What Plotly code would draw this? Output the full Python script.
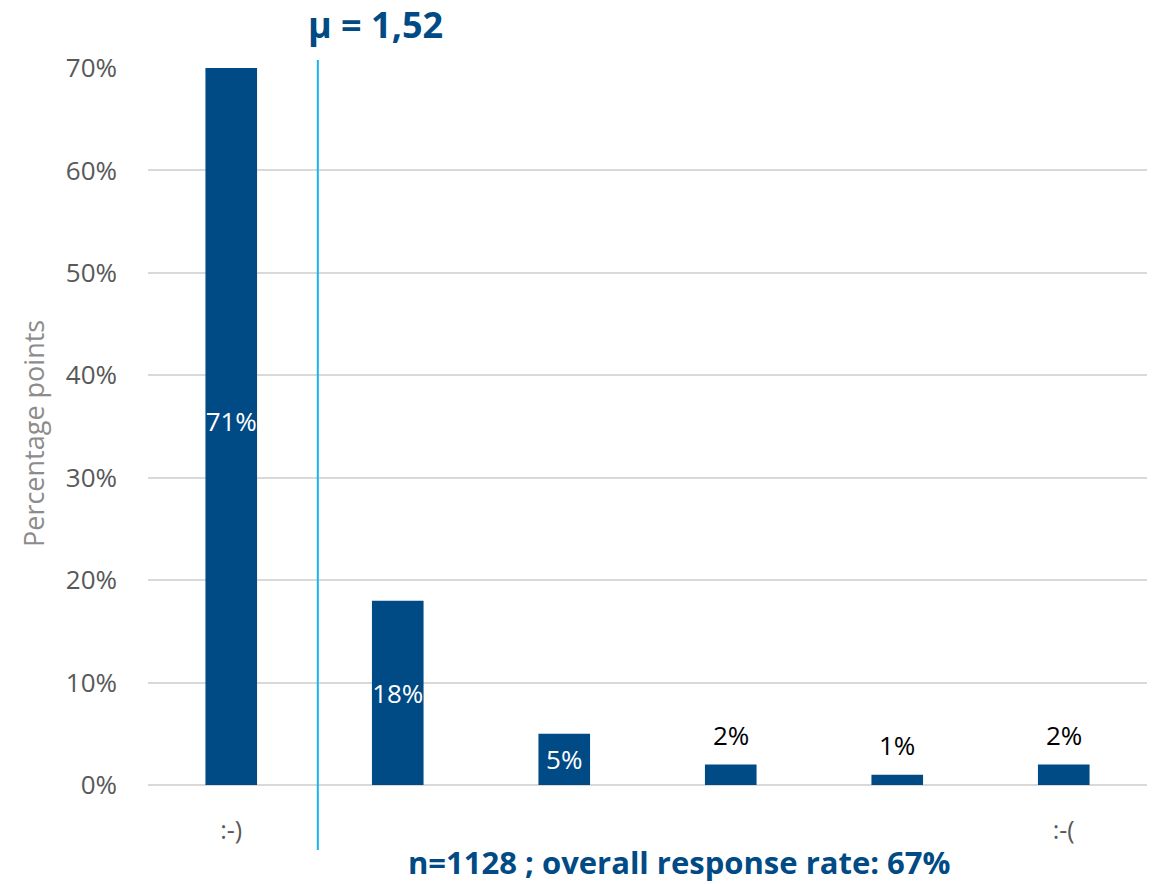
import plotly.graph_objects as go

# Response distribution on a 6-point scale
positions = [1, 2, 3, 4, 5, 6]
shares = [71, 18, 5, 2, 1, 2]
tick_positions = [1, 6]
tick_labels = [":-)", ":-("]
mean_score = 1.52
mean_label = "μ = 1,52"
footnote = "n=1128 ; overall response rate: 67%"

BLUE = "#004A85"
LINE_BLUE = "#19B4EE"
GRID = "#D9D9D9"
TICK = "#595959"

# large bars carry their label inside; small bars get it above
inside = [v >= 5 for v in shares]

fig = go.Figure(
    go.Bar(
        x=positions,
        y=shares,
        width=0.31,
        marker=dict(color=BLUE, line=dict(width=0)),
        text=[f"{v}%" if ins else "" for v, ins in zip(shares, inside)],
        textposition="inside",
        insidetextanchor="middle",
        textangle=0,
        constraintext="none",
        cliponaxis=True,
        textfont=dict(family="Open Sans", size=26, color="white"),
        hoverinfo="skip",
    )
)

for x, v, ins in zip(positions, shares, inside):
    if not ins:
        fig.add_annotation(
            x=x, y=v, xref="x", yref="y",
            xanchor="center", yanchor="bottom", yshift=10,
            text=f"{v}%", showarrow=False,
            font=dict(family="Open Sans", size=26, color="black"),
        )

# mean marker line, running past the plot area
fig.add_shape(
    type="line",
    xref="x", yref="paper",
    x0=mean_score, x1=mean_score,
    y0=-0.0907, y1=1.011,
    line=dict(color=LINE_BLUE, width=2),
)

fig.add_annotation(
    x=mean_score, xref="x", y=1.06, yref="paper",
    xanchor="left", yanchor="middle", xshift=-12,
    text=f"<b>{mean_label}</b>", showarrow=False,
    font=dict(family="Open Sans", size=36, color=BLUE),
)

fig.add_annotation(
    x=(679 - 148) / 999, xref="paper", y=-(862 - 785) / 717, yref="paper",
    xanchor="center", yanchor="middle",
    text=f"<b>{footnote}</b>", showarrow=False,
    font=dict(family="Open Sans", size=31, color=BLUE),
)

fig.add_annotation(
    x=(33 - 148) / 999, xref="paper", y=(785 - 434) / 717, yref="paper",
    xanchor="center", yanchor="middle", textangle=-90,
    text="Percentage points", showarrow=False,
    font=dict(family="Open Sans", size=27, color="#8C8C8C"),
)

fig.update_layout(
    width=1152, height=884,
    margin=dict(l=148, r=5, t=68, b=99),
    paper_bgcolor="white", plot_bgcolor="white",
    showlegend=False,
)
fig.update_xaxes(
    range=[0.5, 6.5],
    tickvals=tick_positions, ticktext=tick_labels,
    showgrid=False, zeroline=False, showline=False,
    ticks="", ticklabelstandoff=28,
    tickfont=dict(family="Open Sans", size=25, color=TICK),
)
fig.update_yaxes(
    range=[0, 70], dtick=10, ticksuffix="%",
    showgrid=True, gridcolor=GRID, gridwidth=2,
    zeroline=True, zerolinecolor=GRID, zerolinewidth=2,
    showline=False, ticks="", ticklabelstandoff=30,
    tickfont=dict(family="Open Sans", size=26, color=TICK),
)

fig.write_html("out.html")
